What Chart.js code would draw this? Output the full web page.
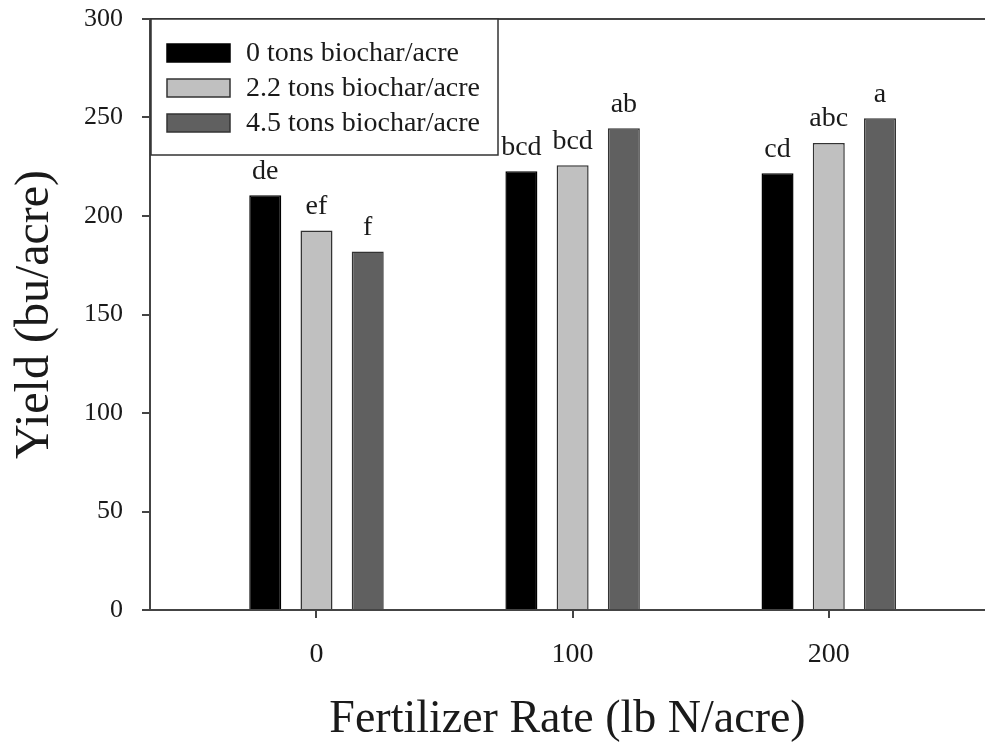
<!DOCTYPE html>
<html>
<head>
<meta charset="utf-8">
<script src="https://cdn.jsdelivr.net/npm/chart.js@4"></script>
<style>
  html, body { margin: 0; padding: 0; background: #ffffff; }
  #wrap { width: 985px; height: 745px; }
</style>
</head>
<body>
<div id="wrap"><canvas id="yieldChart" width="985" height="745"></canvas></div>
<script>
const rates = [0, 100, 200];
const seriesNames = ['0 tons biochar/acre', '2.2 tons biochar/acre', '4.5 tons biochar/acre'];
const yield0 = [210.5, 222.7, 221.7];
const yield22 = [192.7, 225.7, 237.0];
const yield45 = [182.0, 244.5, 249.6];
const letters0 = ['de', 'bcd', 'cd'];
const letters22 = ['ef', 'bcd', 'abc'];
const letters45 = ['f', 'ab', 'a'];
const yTicks = [0, 50, 100, 150, 200, 250, 300];

const FONT = '"Liberation Serif", "Times New Roman", serif';
const AXIS = '#444444';
const fills = ['#000000', '#c0c0c0', '#606060'];
const edges = ['#000000', '#333333', '#333333'];
const letterSets = [letters0, letters22, letters45];

const toPoints = (values) => values.map((v, i) => ({ x: rates[i], y: v }));

// letters above bars, the legend box and the top frame line
const annotate = {
  id: 'annotate',
  afterDatasetsDraw(chart) {
    const { ctx, chartArea } = chart;
    ctx.save();
    ctx.font = `28px ${FONT}`;
    ctx.fillStyle = '#1a1a1a';
    ctx.textAlign = 'center';
    ctx.textBaseline = 'middle';
    letterSets.forEach((letters, d) => {
      chart.getDatasetMeta(d).data.forEach((bar, i) => {
        ctx.fillText(letters[i], bar.x, bar.y - 24);
      });
    });

    // top frame
    ctx.strokeStyle = AXIS;
    ctx.lineWidth = 2;
    ctx.beginPath();
    ctx.moveTo(chartArea.left - 8, chartArea.top);
    ctx.lineTo(chartArea.right, chartArea.top);
    ctx.stroke();

    // legend
    const lx = chartArea.left + 1;
    const ly = chartArea.top;
    ctx.fillStyle = '#ffffff';
    ctx.fillRect(lx, ly, 347, 136);
    ctx.strokeStyle = '#333333';
    ctx.lineWidth = 1.5;
    ctx.strokeRect(lx, ly, 347, 136);
    ctx.textAlign = 'left';
    chart.data.datasets.forEach((ds, d) => {
      const cy = ly + 34 + d * 35;
      ctx.fillStyle = ds.backgroundColor;
      ctx.fillRect(lx + 16, cy - 9, 63, 18);
      ctx.strokeStyle = ds.borderColor;
      ctx.lineWidth = 1.5;
      ctx.strokeRect(lx + 16, cy - 9, 63, 18);
      ctx.fillStyle = '#1a1a1a';
      ctx.fillText(ds.label, lx + 95, cy + 1);
    });
    ctx.restore();
  },
};

new Chart(document.getElementById('yieldChart'), {
  type: 'bar',
  data: {
    datasets: [yield0, yield22, yield45].map((values, d) => ({
      label: seriesNames[d],
      data: toPoints(values),
      backgroundColor: fills[d],
      borderColor: edges[d],
      borderWidth: 1.5,
      categoryPercentage: 0.6,
      barPercentage: 0.625,
    })),
  },
  options: {
    responsive: false,
    animation: false,
    layout: { padding: { top: 19, right: 0, left: 0, bottom: 0 } },
    plugins: {
      legend: { display: false },
      tooltip: { enabled: false },
    },
    scales: {
      x: {
        type: 'linear',
        min: -65,
        max: 261,
        offset: false,
        afterBuildTicks(scale) {
          scale.ticks = rates.map((value) => ({ value }));
        },
        afterFit(scale) {
          scale.height = 135;
        },
        grid: {
          offset: false,
          drawOnChartArea: false,
          drawTicks: true,
          tickLength: 8,
          color: AXIS,
          lineWidth: 2,
        },
        border: { display: true, color: AXIS, width: 2 },
        ticks: {
          color: '#1a1a1a',
          font: { family: FONT, size: 28 },
          padding: 20,
          maxRotation: 0,
        },
        title: {
          display: true,
          text: 'Fertilizer Rate (lb N/acre)',
          color: '#1a1a1a',
          font: { family: FONT, size: 46, lineHeight: 1 },
          padding: { top: 0, bottom: 2 },
        },
      },
      y: {
        min: 0,
        max: 300,
        afterBuildTicks(scale) {
          scale.ticks = yTicks.map((value) => ({ value }));
        },
        afterFit(scale) {
          scale.width = 150;
          scale.paddingTop = 0;
          scale.paddingBottom = 0;
        },
        grid: {
          drawOnChartArea: false,
          drawTicks: true,
          tickLength: 8,
          color: AXIS,
          lineWidth: 2,
        },
        border: { display: true, color: AXIS, width: 2 },
        ticks: {
          color: '#1a1a1a',
          font: { family: FONT, size: 26 },
          padding: 19,
        },
        title: {
          display: true,
          text: 'Yield (bu/acre)',
          color: '#1a1a1a',
          font: { family: FONT, size: 48, lineHeight: 1 },
          padding: { top: 11, bottom: 0 },
        },
      },
    },
  },
  plugins: [annotate],
});
</script>
</body>
</html>
